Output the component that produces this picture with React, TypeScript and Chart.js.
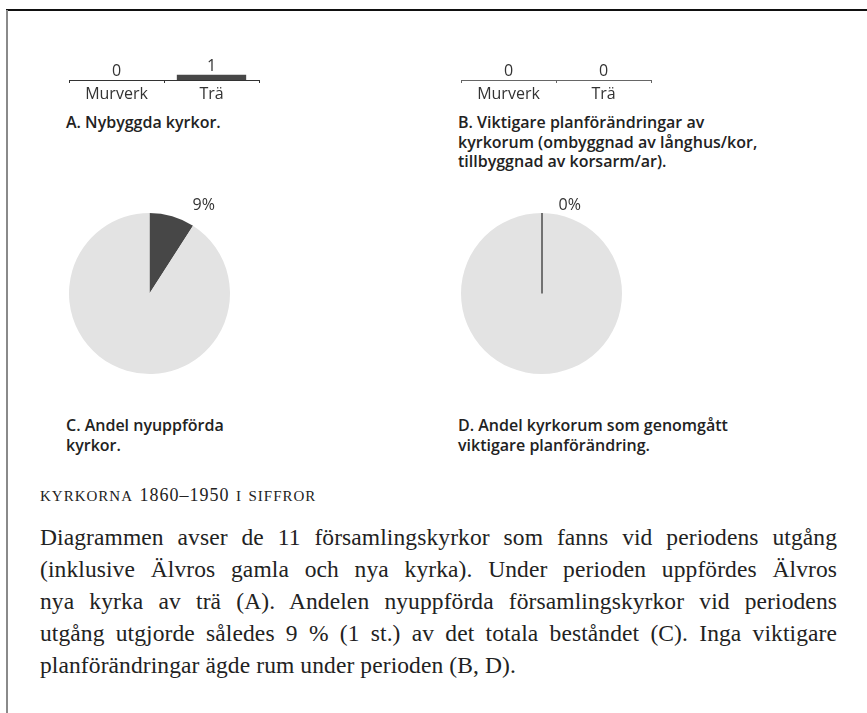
import React, { useEffect, useRef } from "react";
import { Chart, registerables } from "chart.js";

Chart.register(...registerables);

// ---- data ----
const barCategories = ["Murverk", "Trä"];
const newChurchesByMaterial = [0, 1]; // A. Nybyggda kyrkor
const planChangesByMaterial = [0, 0]; // B. Viktigare planförändringar
const pieNewChurches = [1, 10]; // C. nyuppförda vs övriga (11 totalt)
const piePlanChanges = [0, 11]; // D. genomgått planförändring vs övriga

const captionA = "A. Nybyggda kyrkor.";
const captionB = [
  "B. Viktigare planförändringar av",
  "kyrkorum (ombyggnad av långhus/kor,",
  "tillbyggnad av korsarm/ar).",
];
const captionC = ["C. Andel nyuppförda", "kyrkor."];
const captionD = ["D. Andel kyrkorum som genomgått", "viktigare planförändring."];
const headingWords = ["kyrkorna", "1860–1950", "i siffror"];
const paragraphLines = [
  "Diagrammen avser de 11 församlingskyrkor som fanns vid periodens utgång",
  "(inklusive Älvros gamla och nya kyrka). Under perioden uppfördes Älvros",
  "nya kyrka av trä (A). Andelen nyuppförda församlingskyrkor vid periodens",
  "utgång utgjorde således 9 % (1 st.) av det totala beståndet (C). Inga viktigare",
  "planförändringar ägde rum under perioden (B, D).",
];

const SANS = "'Open Sans', 'Noto Sans', sans-serif";
const SERIF = "'Liberation Serif', 'DejaVu Serif', serif";
const DARK = "#474747";
const LIGHT = "#e3e3e3";

const barValueLabels = {
  id: "barValueLabels",
  afterDatasetsDraw(chart: any) {
    const ctx = chart.ctx;
    const meta = chart.getDatasetMeta(0);
    const data = chart.data.datasets[0].data;
    ctx.save();
    ctx.font = `16px ${SANS}`;
    ctx.fillStyle = "#333";
    ctx.textAlign = "center";
    ctx.textBaseline = "alphabetic";
    meta.data.forEach((bar: any, i: number) => {
      ctx.fillText(String(data[i]), bar.x, bar.y - 4);
    });
    ctx.restore();
  },
};

const pieExtras = {
  id: "pieExtras",
  afterDatasetsDraw(chart: any) {
    const ctx = chart.ctx;
    const meta = chart.getDatasetMeta(0);
    const data = chart.data.datasets[0].data as number[];
    const total = data.reduce((a, b) => a + b, 0);
    const first = meta.data[0] as any;
    const cx = first.x;
    const cy = first.y;
    const r = first.outerRadius;
    ctx.save();
    // zero-valued slices drawn as a thin line
    meta.data.forEach((arc: any, i: number) => {
      if (data[i] === 0) {
        ctx.strokeStyle = "#000";
        ctx.lineWidth = 1;
        ctx.beginPath();
        ctx.moveTo(cx + 0.5, cy);
        ctx.lineTo(cx + 0.5 + r * Math.cos(arc.startAngle), cy + r * Math.sin(arc.startAngle));
        ctx.stroke();
      }
    });
    // percentage label for the first slice
    const pct = Math.round((data[0] / total) * 100);
    const endA = first.endAngle + Math.PI / 2;
    const lx = cx + r * 0.35 + r * 0.6 * Math.sin(endA);
    const ly = cy - r - 8;
    ctx.font = `16px ${SANS}`;
    ctx.fillStyle = "#333";
    ctx.textAlign = "center";
    ctx.textBaseline = "middle";
    ctx.fillText(pct + "%", lx, ly);
    ctx.restore();
  },
};

function BarMini({ values, axisColor, style }: { values: number[]; axisColor: string; style: React.CSSProperties }) {
  const ref = useRef<HTMLCanvasElement>(null);
  useEffect(() => {
    const chart = new Chart(ref.current!, {
      type: "bar",
      data: {
        labels: barCategories,
        datasets: [
          {
            data: values,
            backgroundColor: DARK,
            borderWidth: 0,
            barPercentage: 0.73,
            categoryPercentage: 1,
          },
        ],
      },
      options: {
        animation: false,
        responsive: false,
        maintainAspectRatio: false,
        events: [],
        layout: { padding: { left: 29, right: 31, top: 14, bottom: 4 } },
        plugins: { legend: { display: false }, tooltip: { enabled: false } },
        scales: {
          x: {
            offset: true,
            border: { display: true, color: axisColor, width: 1 },
            grid: { display: true, offset: true, drawOnChartArea: false, drawTicks: true, tickLength: 3, color: axisColor },
            ticks: { color: "#333", font: { family: SANS, size: 16 }, padding: 2 },
          },
          y: { display: false, min: 0, max: 5 },
        },
      },
      plugins: [barValueLabels],
    });
    return () => chart.destroy();
  }, []);
  return <canvas ref={ref} width={250} height={70} style={{ position: "absolute", ...style }} />;
}

function PieMini({ values, style }: { values: number[]; style: React.CSSProperties }) {
  const ref = useRef<HTMLCanvasElement>(null);
  useEffect(() => {
    const chart = new Chart(ref.current!, {
      type: "pie",
      data: {
        labels: ["Andel", "Övriga"],
        datasets: [
          {
            data: values,
            backgroundColor: [DARK, LIGHT],
            borderWidth: 0,
            hoverOffset: 0,
            offset: 0,
          },
        ],
      },
      options: {
        animation: false,
        responsive: false,
        maintainAspectRatio: false,
        events: [],
        layout: { padding: { left: 10, right: 60, top: 40, bottom: 10 } },
        plugins: { legend: { display: false }, tooltip: { enabled: false } },
      },
      plugins: [pieExtras],
    });
    return () => chart.destroy();
  }, []);
  return <canvas ref={ref} width={231} height={211} style={{ position: "absolute", ...style }} />;
}

const captionStyle: React.CSSProperties = {
  position: "absolute",
  fontFamily: SANS,
  fontWeight: 600,
  fontSize: 16,
  lineHeight: "19.5px",
  color: "#222",
  margin: 0,
  whiteSpace: "nowrap",
};

export default function App() {
  return (
    <div
      style={{
        position: "absolute",
        left: 0,
        top: 0,
        width: 867,
        height: 713,
        background: "#fff",
        overflow: "hidden",
      }}
    >
      <div style={{ position: "absolute", left: 6, top: 9, width: 861, height: 2, background: "#111" }} />
      <div style={{ position: "absolute", left: 6, top: 10, width: 2, height: 703, background: "#8a8a8a" }} />

      <BarMini values={newChurchesByMaterial} axisColor="#333" style={{ left: 40, top: 40 }} />
      <BarMini values={planChangesByMaterial} axisColor="#666" style={{ left: 432, top: 40 }} />

      <div style={{ ...captionStyle, left: 66, top: 113 }}>{captionA}</div>
      <div style={{ ...captionStyle, left: 458, top: 113 }}>
        {captionB.map((l, i) => (
          <div key={i}>{l}</div>
        ))}
      </div>

      <PieMini values={pieNewChurches} style={{ left: 59, top: 173 }} />
      <PieMini values={piePlanChanges} style={{ left: 451, top: 173 }} />

      <div style={{ ...captionStyle, left: 66, top: 416 }}>
        {captionC.map((l, i) => (
          <div key={i}>{l}</div>
        ))}
      </div>
      <div style={{ ...captionStyle, left: 458, top: 416 }}>
        {captionD.map((l, i) => (
          <div key={i}>{l}</div>
        ))}
      </div>

      <div
        style={{
          position: "absolute",
          left: 40,
          top: 482,
          fontFamily: SERIF,
          fontSize: 22,
          fontVariant: "small-caps",
          letterSpacing: 1,
          color: "#222",
          lineHeight: "24px",
          whiteSpace: "nowrap",
        }}
      >
        {headingWords[0]} <span style={{ fontSize: 18 }}>{headingWords[1]}</span> {headingWords[2]}
      </div>

      <div style={{ position: "absolute", left: 40, top: 521, width: 797, fontFamily: SERIF, fontSize: 23.5, letterSpacing: 0.1, color: "#222" }}>
        {paragraphLines.map((l, i) => (
          <div
            key={i}
            style={{
              height: 32,
              lineHeight: "32px",
              whiteSpace: "nowrap",
              textAlign: i === paragraphLines.length - 1 ? "left" : "justify",
              textAlignLast: i === paragraphLines.length - 1 ? "left" : "justify",
            }}
          >
            {l}
          </div>
        ))}
      </div>
    </div>
  );
}
